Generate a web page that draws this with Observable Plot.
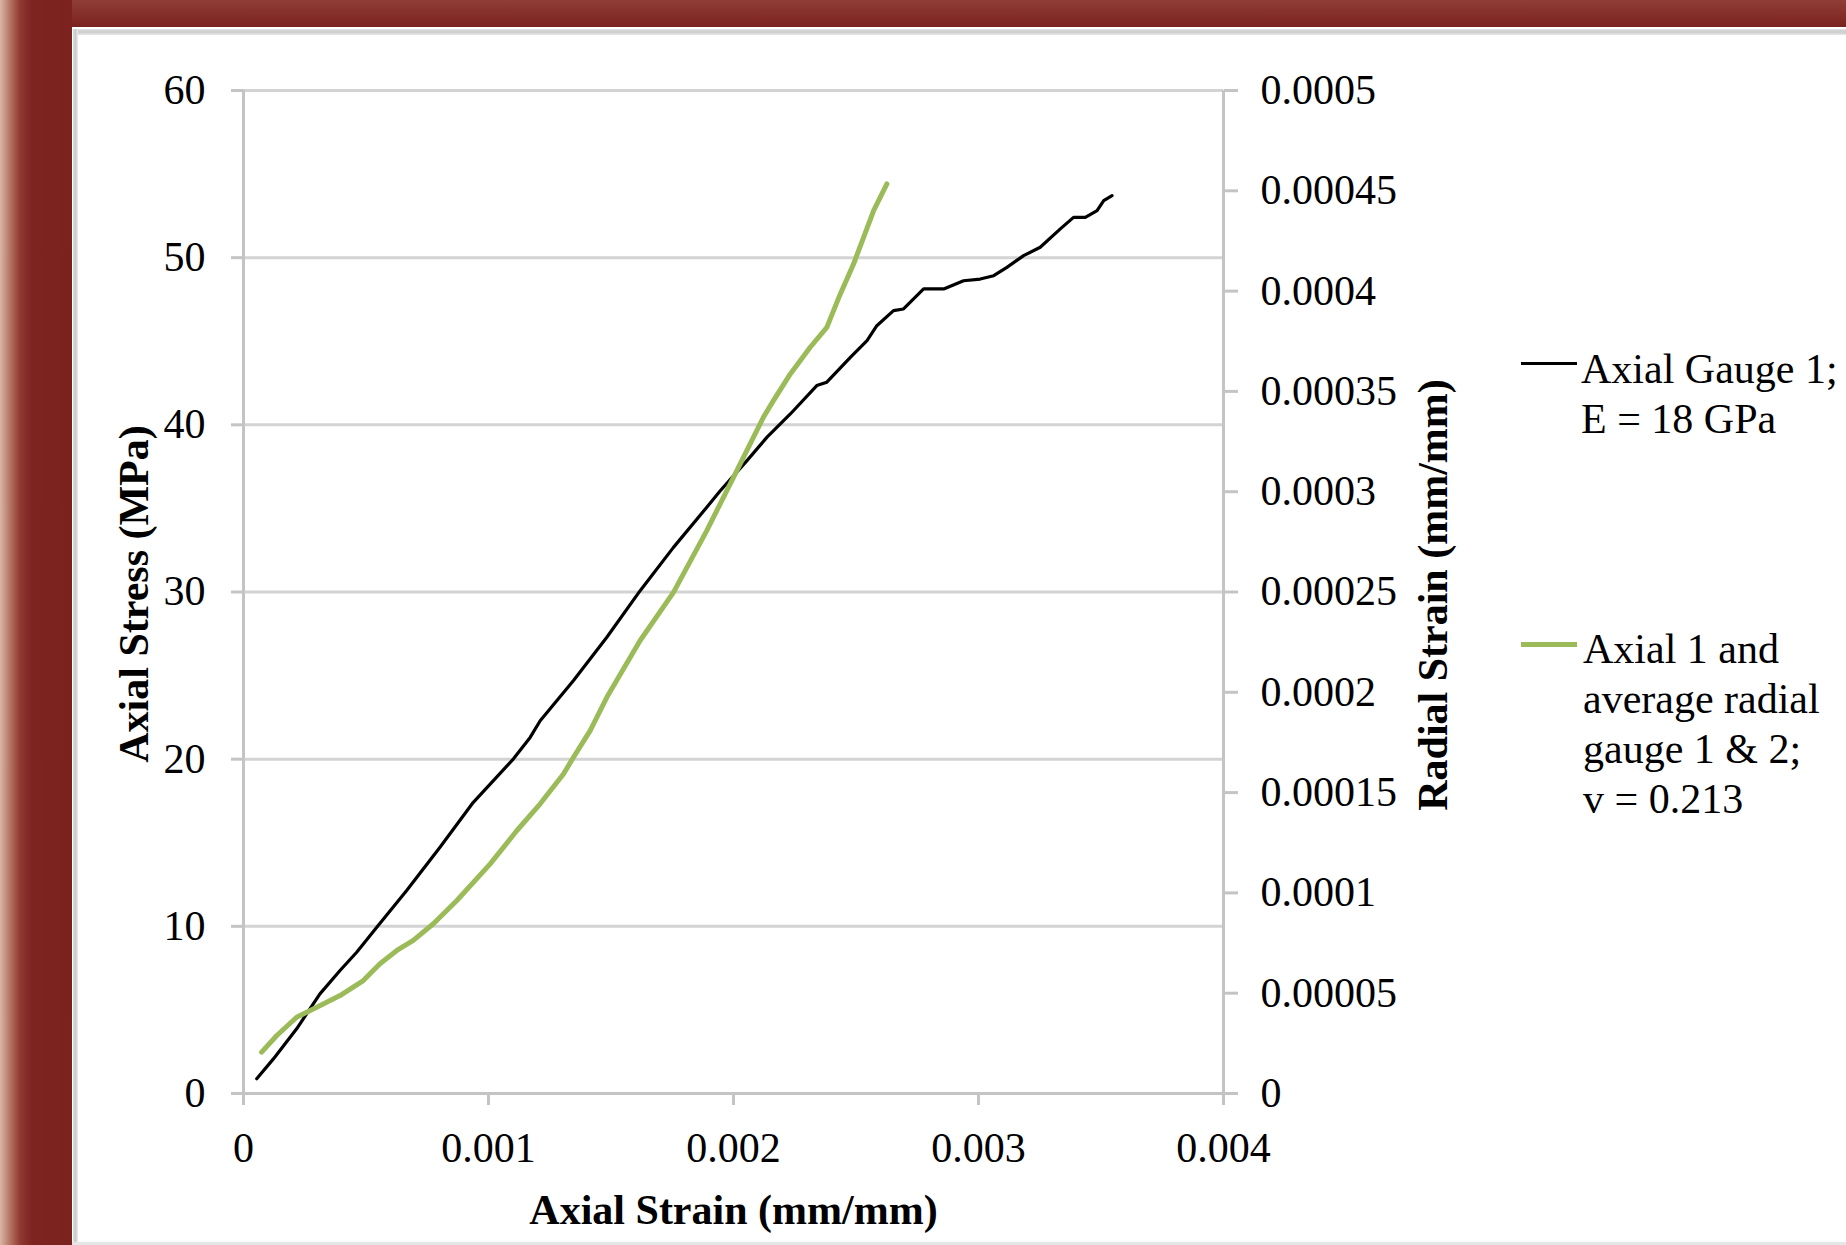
<!DOCTYPE html>
<html>
<head>
<meta charset="utf-8">
<script src="https://cdn.jsdelivr.net/npm/d3@7"></script>
<script src="https://cdn.jsdelivr.net/npm/@observablehq/plot@0.6"></script>
<style>
html, body { margin: 0; padding: 0; }
body { width: 1846px; height: 1245px; position: relative; overflow: hidden; background: #7b221f;
       font-family: "Liberation Serif", "Times New Roman", serif; }
#topband { position: absolute; left: 0; top: 0; width: 1846px; height: 27px;
           background: linear-gradient(to bottom, #8f3e37, #7b211e); }
#leftband { position: absolute; left: 0; top: 0; width: 72px; height: 1245px;
            background: linear-gradient(to right, #d9b7a5 0px, #b57463 10px, #8f3a32 20px, #7d2420 32px, #7b211e 72px); }
#panel { position: absolute; left: 72px; top: 27px; width: 1774px; height: 1218px; background: #fff; }
#ptop { position: absolute; left: 73px; top: 29px; width: 1773px; height: 6px;
        background: linear-gradient(to bottom, #e2e2e2, #cbcbcb, #e9e9e9); }
#pleft { position: absolute; left: 73px; top: 29px; width: 5px; height: 1216px;
         background: linear-gradient(to right, #dcdcdc, #cbcbcb, #ebebeb); }
#pbottom { position: absolute; left: 72px; top: 1242px; width: 1774px; height: 3px; background: #e6e6e6; }
#chart { position: absolute; left: 0; top: 0; }
.legtext { position: absolute; font-size: 42px; line-height: 50px; color: #000; white-space: nowrap; }
.legline { position: absolute; }
</style>
</head>
<body>
<div id="topband"></div>
<div id="leftband"></div>
<div id="panel"></div>
<div id="ptop"></div>
<div id="pleft"></div>
<div id="pbottom"></div>
<div id="chart"></div>
<div class="legline" style="left:1521px;top:362px;width:56px;height:3px;background:#000;"></div>
<div class="legtext" id="leg1" style="left:1581px;top:344px;"></div>
<div class="legline" style="left:1521px;top:642px;width:56px;height:5px;background:#9bbb59;"></div>
<div class="legtext" id="leg2" style="left:1583px;top:624px;"></div>
<script>
// ---- Data ----
const strainTicks = [0, 0.001, 0.002, 0.003, 0.004];
const strainTickLabels = ["0", "0.001", "0.002", "0.003", "0.004"];
const stressTicks = [0, 10, 20, 30, 40, 50, 60];
const stressTickLabels = ["0", "10", "20", "30", "40", "50", "60"];
const radialTicks = [0, 0.00005, 0.0001, 0.00015, 0.0002, 0.00025, 0.0003, 0.00035, 0.0004, 0.00045, 0.0005];
const radialTickLabels = ["0", "0.00005", "0.0001", "0.00015", "0.0002", "0.00025", "0.0003", "0.00035", "0.0004", "0.00045", "0.0005"];

const seriesNames = ["Axial Gauge 1;\nE = 18 GPa", "Axial 1 and\naverage radial\ngauge 1 & 2;\nv = 0.213"];

// Axial Gauge 1: axial strain (mm/mm) vs axial stress (MPa)
const axialStrain = [0.000054, 0.000122, 0.000217, 0.000312, 0.000394, 0.000462, 0.000544, 0.000666, 0.000802, 0.000938,
  0.001102, 0.00117, 0.001211, 0.001347, 0.001483, 0.001619, 0.001755, 0.001891, 0.001946, 0.002055,
  0.002136, 0.002232, 0.00234, 0.002381, 0.002477, 0.002545, 0.002585, 0.002653, 0.002694, 0.002776,
  0.002858, 0.002939, 0.003007, 0.003062, 0.003116, 0.003184, 0.003252, 0.003334, 0.003388, 0.003436,
  0.003484, 0.003511, 0.003545];
const axialStress = [0.88, 2.07, 3.87, 5.96, 7.36, 8.45, 9.95, 12.14, 14.73, 17.42,
  20.02, 21.3, 22.3, 24.7, 27.29, 30.08, 32.67, 35.07, 36.06, 37.86,
  39.25, 40.65, 42.35, 42.55, 44.04, 45.04, 45.93, 46.83, 46.93, 48.13,
  48.13, 48.62, 48.72, 48.92, 49.42, 50.12, 50.62, 51.72, 52.41, 52.41,
  52.81, 53.41, 53.71];

// Axial 1 vs average radial gauge 1 & 2 (radial strain on secondary axis)
const radialAxialStrain = [0.000074, 0.000136, 0.000217, 0.000299, 0.000394, 0.000489, 0.000557, 0.000626, 0.000693, 0.000775,
  0.000871, 0.001007, 0.001116, 0.001211, 0.001306, 0.001347, 0.001415, 0.001483, 0.001619, 0.001755,
  0.001891, 0.002, 0.002068, 0.002122, 0.002163, 0.002232, 0.002313, 0.002381, 0.002436, 0.00249,
  0.002531, 0.002572, 0.002626];
const radialStrain = [0.0000206, 0.0000289, 0.0000380, 0.0000430, 0.0000488, 0.0000563, 0.0000647, 0.0000713, 0.0000763, 0.0000846,
  0.0000962, 0.0001145, 0.0001311, 0.0001444, 0.0001593, 0.0001676, 0.0001809, 0.0001975, 0.0002258, 0.0002498,
  0.0002806, 0.0003072, 0.0003238, 0.0003371, 0.0003454, 0.0003587, 0.0003720, 0.0003819, 0.0003986, 0.0004135,
  0.0004268, 0.0004401, 0.0004534];

// ---- Build ----
const K = 60 / 0.0005; // secondary (radial) axis -> primary (stress) axis units
const black = axialStrain.map((x, i) => ({x, y: axialStress[i]}));
const green = radialAxialStrain.map((x, i) => ({x, r: radialStrain[i]}));
const font = "'Liberation Serif', 'Times New Roman', serif";
const axisGray = "#c4c4c4";

const labelFor = (vals, labels, scale = 1) => d => {
  const j = vals.findIndex(v => Math.abs(v * scale - d) < 1e-9);
  return j >= 0 ? labels[j] : "";
};

const chart = Plot.plot({
  width: 1846,
  height: 1245,
  marginLeft: 243,
  marginRight: 623,
  marginTop: 90,
  marginBottom: 152,
  style: {background: "transparent", fontFamily: font, color: "#000"},
  x: {domain: [0, 0.004]},
  y: {domain: [0, 60]},
  marks: [
    Plot.gridY(stressTicks, {stroke: "#d3d3d3", strokeOpacity: 1, strokeWidth: 3}),
    Plot.ruleY([0], {stroke: axisGray, strokeWidth: 3}),
    Plot.ruleX([0, 0.004], {stroke: axisGray, strokeWidth: 3}),
    Plot.axisY(stressTicks, {anchor: "left", label: null, tickSize: 12, tickPadding: 26,
      stroke: axisGray, strokeWidth: 3, fontSize: 42, fontFamily: font,
      tickFormat: labelFor(stressTicks, stressTickLabels)}),
    Plot.axisY(radialTicks.map(r => r * K), {anchor: "right", label: null, tickSize: 14, tickPadding: 23,
      stroke: axisGray, strokeWidth: 3, fontSize: 42, fontFamily: font,
      tickFormat: labelFor(radialTicks, radialTickLabels, K)}),
    Plot.axisX(strainTicks, {anchor: "bottom", label: null, tickSize: 12, tickPadding: 27,
      stroke: axisGray, strokeWidth: 3, fontSize: 42, fontFamily: font,
      tickFormat: labelFor(strainTicks, strainTickLabels)}),
    Plot.line(black, {x: "x", y: "y", stroke: "#000", strokeWidth: 3.2, strokeLinejoin: "round"}),
    Plot.line(green, {x: "x", y: d => d.r * K, stroke: "#9bbb59", strokeWidth: 5, strokeLinejoin: "round", strokeLinecap: "round"}),
    Plot.text(["Axial Stress (MPa)"], {frameAnchor: "left", textAnchor: "middle", lineAnchor: "middle", dx: -109, dy: 2, rotate: -90, fontSize: 42, fontWeight: "bold", fontFamily: font, fill: "#000"}),
    Plot.text(["Radial Strain (mm/mm)"], {frameAnchor: "right", textAnchor: "middle", lineAnchor: "middle", dx: 210, dy: 3, rotate: -90, fontSize: 42, fontWeight: "bold", fontFamily: font, fill: "#000"}),
    Plot.text(["Axial Strain (mm/mm)"], {frameAnchor: "bottom", textAnchor: "middle", lineAnchor: "middle", dy: 117, fontSize: 42, fontWeight: "bold", fontFamily: font, fill: "#000"})
  ]
});
document.getElementById("chart").appendChild(chart);

// Legend
function fillLegend(id, text) {
  const el = document.getElementById(id);
  text.split("\n").forEach(line => {
    const d = document.createElement("div");
    d.textContent = line;
    el.appendChild(d);
  });
}
fillLegend("leg1", seriesNames[0]);
fillLegend("leg2", seriesNames[1]);
</script>
</body>
</html>
